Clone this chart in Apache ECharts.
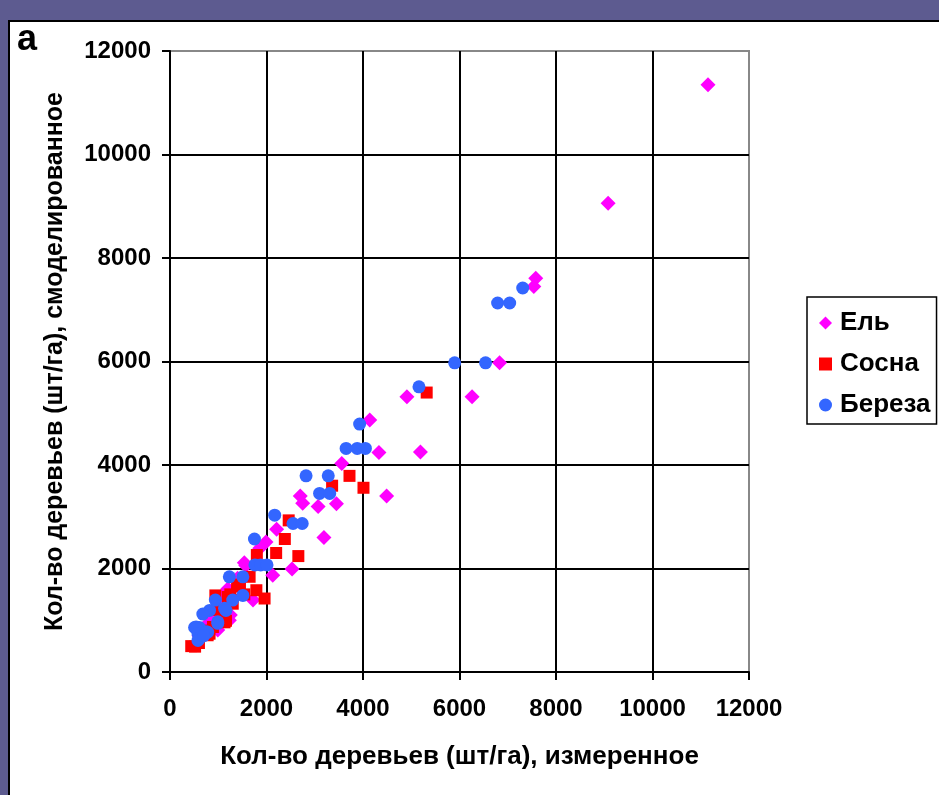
<!DOCTYPE html>
<html>
<head>
<meta charset="utf-8">
<script src="https://cdn.jsdelivr.net/npm/echarts@6/dist/echarts.min.js"></script>
<style>
  html, body { margin: 0; padding: 0; }
  body { width: 939px; height: 795px; background: #5d5b90; position: relative; overflow: hidden; }
  #frame { position: absolute; left: 8px; top: 20px; width: 940px; height: 790px; background: #fff; border-top: 2px solid #000; border-left: 2px solid #000; }
  #chart { position: absolute; left: 0; top: 0; width: 939px; height: 795px; }
</style>
</head>
<body>
<div id="frame"></div>
<div id="chart"></div>
<script>
// Axis ticks
const xTicks = [0, 2000, 4000, 6000, 8000, 10000, 12000];
const yTicks = [0, 2000, 4000, 6000, 8000, 10000, 12000];

// Ель (spruce): [measured, modelled]
const spruce = [
  [11150, 11350], [9080, 9060], [7580, 7610], [7540, 7450], [6830, 5975],
  [6260, 5320], [4910, 5320], [4140, 4870], [5190, 4250], [4330, 4240],
  [3560, 4030], [4490, 3400], [2700, 3400], [2750, 3260], [3070, 3200],
  [3450, 3250], [3190, 2600], [2210, 2760], [1990, 2510], [1860, 2390],
  [1570, 2060], [1540, 2110], [2530, 1990], [2130, 1870], [1200, 1610],
  [1720, 1390], [1400, 1810], [1230, 1000], [990, 810], [1100, 1500],
  [1000, 1300], [900, 1050], [800, 950], [700, 800], [600, 700], [1250, 1100]
];

// Сосна (pine)
const pine = [
  [5320, 5400], [3720, 3790], [3360, 3600], [4010, 3560], [2460, 2930],
  [2380, 2570], [2200, 2300], [2660, 2240], [1800, 2260], [1650, 1840],
  [1390, 1690], [1790, 1580], [1960, 1420], [1540, 1500], [1300, 1320],
  [1270, 1390], [940, 1480], [1160, 990], [1130, 960], [890, 870],
  [780, 710], [820, 740], [440, 500], [520, 490], [600, 560],
  [1080, 1150], [1000, 1200], [700, 800], [1250, 1500], [1450, 1650], [1200, 1450]
];

// Береза (birch)
const birch = [
  [7310, 7420], [6790, 7130], [7040, 7130], [5900, 5975], [6540, 5975],
  [5160, 5510], [3930, 4790], [3650, 4320], [3880, 4320], [4050, 4320],
  [2820, 3790], [3280, 3790], [3100, 3450], [3310, 3450], [2170, 3030],
  [2550, 2870], [2740, 2870], [1750, 2570], [1760, 2070], [1880, 2070],
  [2010, 2070], [1230, 1840], [1510, 1840], [1510, 1480], [1300, 1390],
  [940, 1390], [1130, 1230], [1160, 1190], [820, 1190], [680, 1120],
  [990, 970], [990, 940], [510, 860], [610, 860], [540, 870],
  [580, 740], [750, 780], [780, 770], [610, 650], [580, 610], [700, 700]
];

const seriesNames = ['Ель', 'Сосна', 'Береза'];
const seriesColors = ['#FF00FF', '#FF0000', '#3366FF'];

const FONT = 'Liberation Sans, Arial, sans-serif';
const chart = echarts.init(document.getElementById('chart'), null, { renderer: 'canvas' });

const plainNum = v => String(v);

chart.setOption({
  backgroundColor: 'transparent',
  animation: false,
  textStyle: { fontFamily: FONT },
  grid: {
    left: 170, top: 51, width: 579, height: 621,
    show: true, borderColor: '#888', borderWidth: 2, backgroundColor: '#fff'
  },
  xAxis: {
    type: 'value', min: xTicks[0], max: xTicks[xTicks.length - 1], interval: xTicks[1] - xTicks[0],
    axisLine: { show: true, onZero: false, lineStyle: { color: '#000', width: 2 } },
    axisTick: { show: true, inside: false, length: 8, lineStyle: { color: '#000', width: 2 } },
    splitLine: { show: true, showMaxLine: false, lineStyle: { color: '#000', width: 2 } },
    axisLabel: { margin: 25, color: '#000', fontSize: 24, fontWeight: 'bold', fontFamily: FONT, formatter: plainNum },
    name: 'Кол-во деревьев (шт/га), измеренное',
    nameLocation: 'middle', nameGap: 72,
    nameTextStyle: { color: '#000', fontSize: 26, fontWeight: 'bold', fontFamily: FONT }
  },
  yAxis: {
    type: 'value', min: yTicks[0], max: yTicks[yTicks.length - 1], interval: yTicks[1] - yTicks[0],
    axisLine: { show: true, onZero: false, lineStyle: { color: '#000', width: 2 } },
    axisTick: { show: true, inside: false, length: 8, lineStyle: { color: '#000', width: 2 } },
    splitLine: { show: true, showMaxLine: false, lineStyle: { color: '#000', width: 2 } },
    axisLabel: { margin: 19, color: '#000', fontSize: 24, fontWeight: 'bold', fontFamily: FONT, formatter: plainNum },
    name: 'Кол-во деревьев (шт/га), смоделированное',
    nameLocation: 'middle', nameGap: 102, nameRotate: 90,
    nameTextStyle: { color: '#000', fontSize: 25, fontWeight: 'bold', fontFamily: FONT }
  },
  legend: {
    left: 807, top: 297, orient: 'vertical',
    padding: [13, 6, 6, 12], itemGap: 15, itemWidth: 13, itemHeight: 13,
    borderColor: '#000', borderWidth: 1.5, backgroundColor: '#fff',
    textStyle: { color: '#000', fontSize: 26, fontWeight: 'bold', fontFamily: FONT, lineHeight: 26, padding: [0, 0, 0, 3] },
    data: [
      { name: seriesNames[0], icon: 'diamond' },
      { name: seriesNames[1], icon: 'rect' },
      { name: seriesNames[2], icon: 'circle' }
    ]
  },
  graphic: [
    { type: 'text', left: 17, top: 22, style: { text: 'a', fontSize: 36, fontWeight: 'bold', fontFamily: FONT, fill: '#000' } }
  ],
  series: [
    { name: seriesNames[0], type: 'scatter', data: spruce, symbol: 'diamond', symbolSize: 15,
      itemStyle: { color: seriesColors[0], opacity: 1 } },
    { name: seriesNames[1], type: 'scatter', data: pine, symbol: 'rect', symbolSize: 12,
      itemStyle: { color: seriesColors[1], opacity: 1 } },
    { name: seriesNames[2], type: 'scatter', data: birch, symbol: 'circle', symbolSize: 13,
      itemStyle: { color: seriesColors[2], opacity: 1 } }
  ]
});
</script>
</body>
</html>
